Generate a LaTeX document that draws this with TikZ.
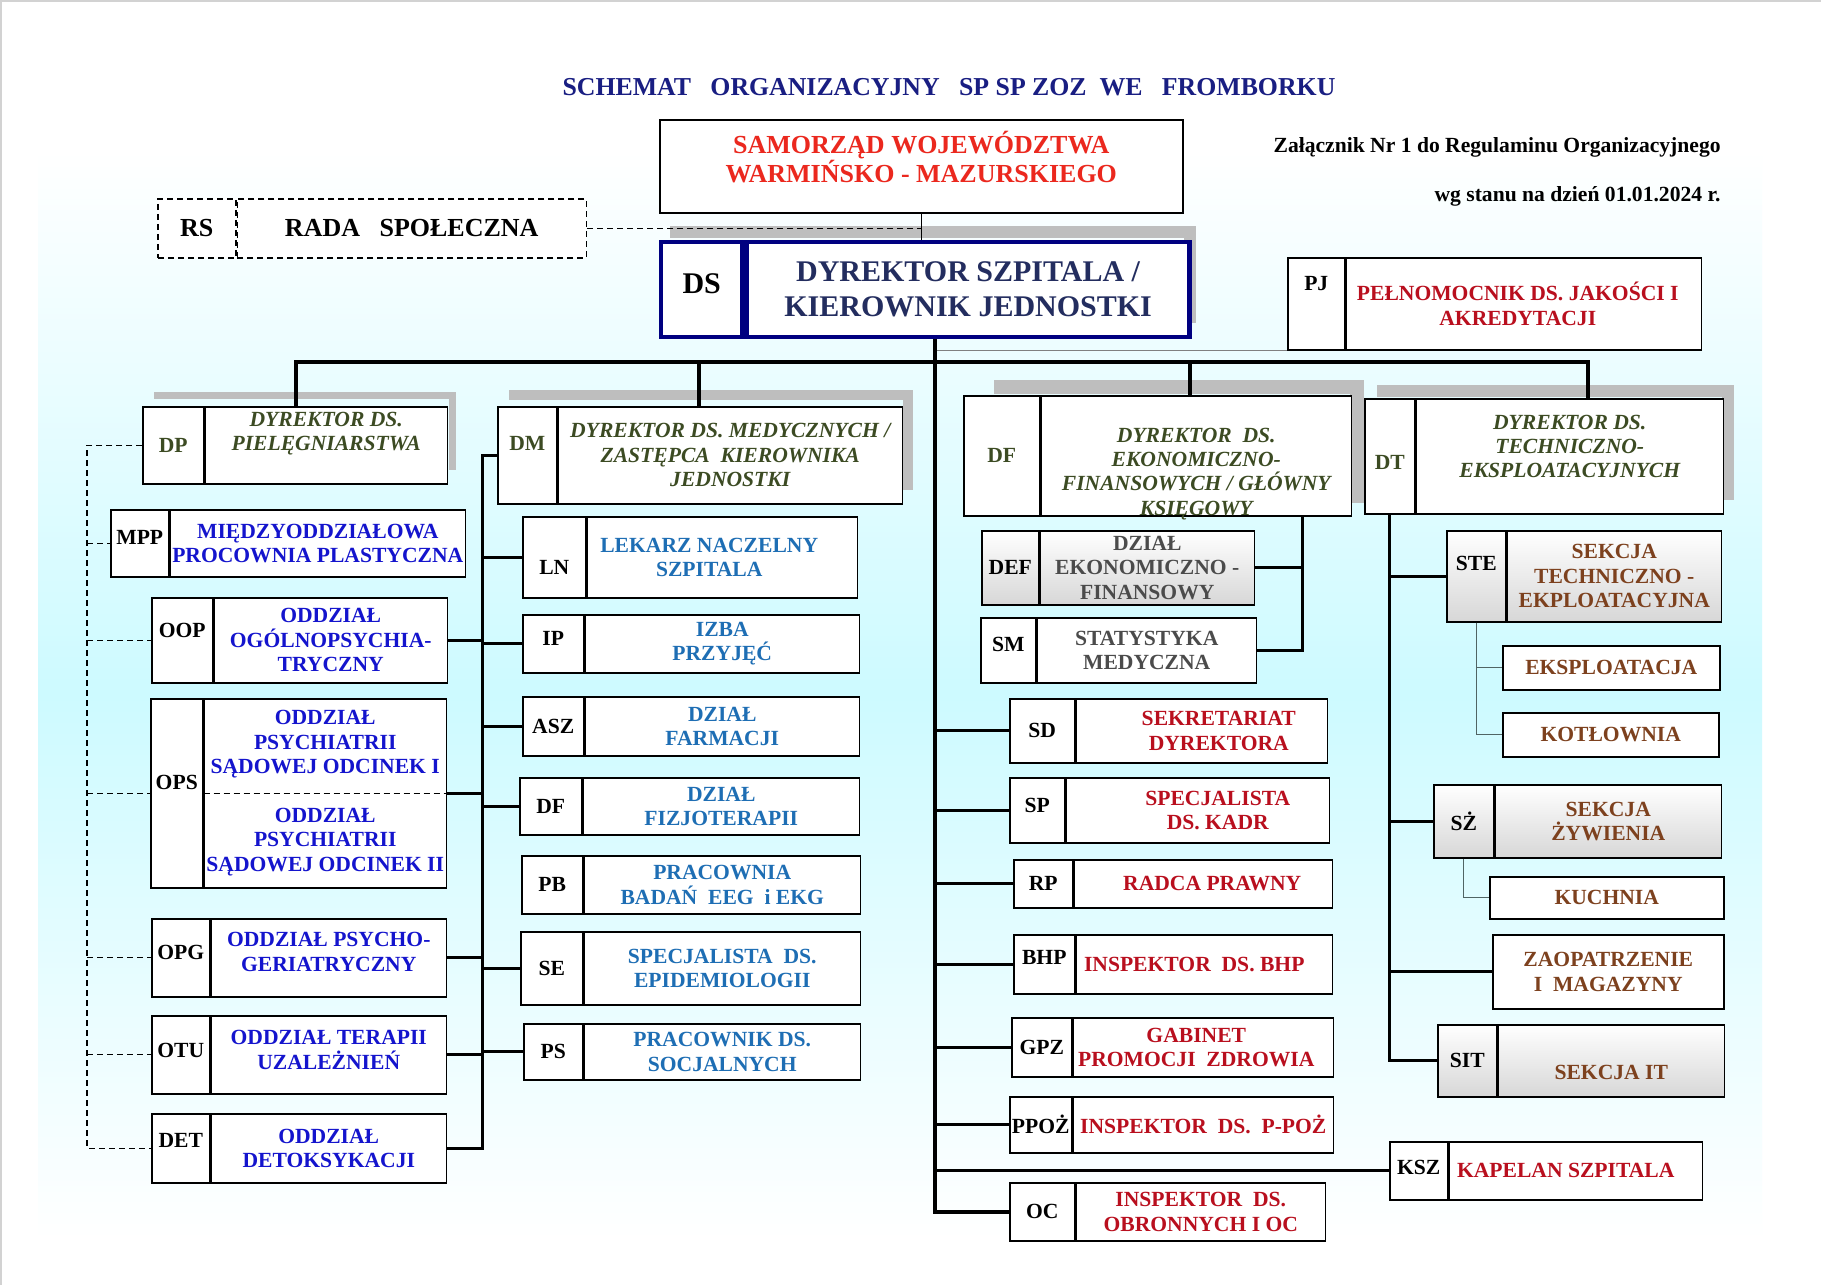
\documentclass[tikz,border=0pt]{standalone}
\usepackage{fontspec}
\setmainfont{Liberation Serif}
\usetikzlibrary{positioning}

\definecolor{titlenavy}{RGB}{25,30,130}
\definecolor{dsnavy}{RGB}{0,0,128}
\definecolor{dstext}{RGB}{35,45,95}
\definecolor{samred}{RGB}{235,40,30}
\definecolor{oddzblue}{RGB}{20,20,205}
\definecolor{medblue}{RGB}{30,110,180}
\definecolor{darkred}{RGB}{185,15,30}
\definecolor{olivetxt}{RGB}{60,75,35}
\definecolor{browntxt}{RGB}{125,65,30}
\definecolor{graytxt}{RGB}{75,75,75}
\definecolor{shadegray}{RGB}{190,190,190}
\definecolor{gradgray}{RGB}{215,215,215}
\definecolor{bgcyan}{RGB}{205,250,255}
\definecolor{sublinec}{RGB}{80,100,100}
\colorlet{labc}{black}

\newcommand{\txtfont}{\bfseries\fontsize{10.8}{12.2}\selectfont}
% struts to move a cell text up (\up) or down (\dn) by half the length
\newcommand{\up}[1]{\rule[-#1]{0pt}{0pt}}
\newcommand{\dn}[1]{\rule{0pt}{#1}}

\tikzset{
  boxcell/.style={draw, line width=0.75pt, fill=white, inner xsep=1pt, inner ysep=0pt, align=center, font=\txtfont},
  labfont/.style={text=labc, font=\txtfont},
  oddz/.style={text=oddzblue},
  med/.style={text=medblue},
  sekr/.style={text=darkred},
  dyr/.style={text=olivetxt, font=\txtfont\itshape},
  ekon/.style={text=graytxt},
  tech/.style={text=browntxt},
  gradfill/.style={top color=white, bottom color=gradgray},
  bus/.style={line width=1.5pt},
  mainbus/.style={line width=2pt},
  dashlink/.style={dashed, line width=0.6pt, dash pattern=on 3pt off 2pt},
  subline/.style={draw=sublinec, line width=0.7pt},
  shadebar/.style={draw=shadegray, line width=#1},
}

% one unit: label cell + text cell
\newcommand{\unitbox}[9]{%
  \node[boxcell, #9, labfont, minimum width=#4*0.5pt, minimum height=#6*0.5pt, anchor=north west] (#1) at (#2,#3) {#7};
  \node[boxcell, #9, minimum width=(#5-#4)*0.5pt, minimum height=#6*0.5pt, anchor=north west] (#1-t) at (#1.north east) {#8};
}

\begin{document}
\begin{tikzpicture}[x=0.5pt, y=-0.5pt]
  \useasboundingbox (0,0) rectangle (1821,1285);
  \fill[white] (0,0) rectangle (1821,1285);
  \shade[top color=white, bottom color=white, middle color=bgcyan] (38,150) rectangle (1762,1240);
  \draw[gray!35, line width=1pt] (1,1285) -- (1,1) -- (1821,1);

  % header
  \node[font=\bfseries\fontsize{12.9}{15}\selectfont, text=titlenavy] (title) at (949,87)
    {SCHEMAT\ \ \ ORGANIZACYJNY\ \ \ SP SP ZOZ\ \ WE\ \ \ FROMBORKU};
  \node[boxcell, text=samred, font=\bfseries\fontsize{13}{14.5}\selectfont, minimum width=523*0.5pt, minimum height=93*0.5pt, anchor=north west] (sam) at (659,119)
    {SAMORZĄD WOJEWÓDZTWA\\WARMIŃSKO - MAZURSKIEGO\up{9pt}};
  \node[font=\txtfont, anchor=east, inner sep=0pt] (zal) at (1721,147) {Załącznik Nr 1 do Regulaminu Organizacyjnego};
  \node[font=\txtfont, anchor=east, inner sep=0pt] (stan) at (1721,196) {wg stanu na dzień 01.01.2024 r.};

  \node[boxcell, dashed, dash pattern=on 3pt off 2pt, font=\bfseries\fontsize{13}{15}\selectfont, minimum width=78*0.5pt, minimum height=59*0.5pt, anchor=north west] (rs) at (157,198) {RS};
  \node[boxcell, dashed, dash pattern=on 3pt off 2pt, font=\bfseries\fontsize{13}{15}\selectfont, minimum width=349*0.5pt, minimum height=59*0.5pt, anchor=north west] (rs-t) at (rs.north east) {RADA\ \ \ SPOŁECZNA};

  \draw[shadebar=6pt] (670,232) -- (1190,232) -- (1190,323);
  \node[boxcell, draw=dsnavy, line width=2.2pt, font=\bfseries\fontsize{15}{17.5}\selectfont, minimum width=81*0.5pt, minimum height=95*0.5pt, anchor=north west] (ds) at (659,240) {DS\up{6pt}};
  \node[boxcell, draw=dsnavy, line width=2.2pt, text=dstext, font=\bfseries\fontsize{15}{17.5}\selectfont, minimum width=443*0.5pt, minimum height=95*0.5pt, anchor=north west] (ds-t) at (ds.north east) {DYREKTOR SZPITALA /\\KIEROWNIK JEDNOSTKI};

  \unitbox{pj}{1287}{257}{57}{412}{92}{PJ\up{20pt}}{PEŁNOMOCNIK DS. JAKOŚCI I\hspace*{6pt}\\AKREDYTACJI\hspace*{6pt}}{sekr}

  % directors
  \colorlet{labc}{olivetxt}
  \draw[shadebar=3.5pt] (154,395) -- (452,395) -- (452,470);
  \unitbox{dp}{142}{406}{61}{303}{77}{DP}{DYREKTOR DS.\\PIELĘGNIARSTWA\up{14pt}}{dyr}
  \draw[shadebar=5pt] (509,395) -- (908,395) -- (908,490);
  \unitbox{dm}{497}{406}{59}{403}{97}{DM\up{11.5pt}}{DYREKTOR DS. MEDYCZNYCH /\\ZASTĘPCA\ \ KIEROWNIKA\\JEDNOSTKI}{dyr}
  \draw[shadebar=7pt] (994,387) -- (1357,387) -- (1357,503);
  \unitbox{df}{963}{395}{76}{386}{120}{DF}{\dn{23pt}DYREKTOR\ \ DS.\\EKONOMICZNO-\\FINANSOWYCH / GŁÓWNY\\\smash{KSIĘGOWY}}{dyr}
  \draw[shadebar=6pt] (1377,391) -- (1728,391) -- (1728,500);
  \unitbox{dt}{1364}{398}{50}{357}{115}{\dn{13.7pt}DT}{DYREKTOR DS.\\TECHNICZNO-\\EKSPLOATACYJNYCH\up{10pt}}{dyr}
  \colorlet{labc}{black}

  % wards
  \unitbox{mpp}{110}{509}{58}{353}{67}{MPP\up{5.5pt}}{MIĘDZYODDZIAŁOWA\\PROCOWNIA PLASTYCZNA}{oddz}
  \unitbox{oop}{151}{597}{61}{294}{85}{OOP\up{9.5pt}}{ODDZIAŁ\\OGÓLNOPSYCHIA-\\TRYCZNY}{oddz}
  \unitbox{ops}{150}{698}{52}{294}{189}{OPS\up{10.5pt}}{ODDZIAŁ\\PSYCHIATRII\\SĄDOWEJ ODCINEK I\\[12.2pt]ODDZIAŁ\\PSYCHIATRII\\SĄDOWEJ ODCINEK II}{oddz}
  \unitbox{opg}{151}{918}{58}{293}{78}{OPG\up{5pt}}{ODDZIAŁ PSYCHO-\\GERIATRYCZNY\up{6pt}}{oddz}
  \unitbox{otu}{151}{1015}{58}{293}{78}{OTU\up{4pt}}{ODDZIAŁ TERAPII\\UZALEŻNIEŃ\up{5pt}}{oddz}
  \unitbox{det}{151}{1113}{58}{293}{69}{DET\up{7.5pt}}{ODDZIAŁ\\DETOKSYKACJI}{oddz}

  % medical units
  \unitbox{ln}{522}{516}{63}{333}{81}{\dn{17.7pt}LN}{LEKARZ NACZELNY\hspace*{13pt}\\SZPITALA\hspace*{13pt}}{med}
  \unitbox{ip}{522}{614}{61}{335}{58}{IP\up{5pt}}{IZBA\\PRZYJĘĆ}{med}
  \unitbox{asz}{522}{696}{61}{335}{59}{ASZ}{DZIAŁ\\FARMACJI}{med}
  \unitbox{dfz}{519}{777}{62}{338}{57}{DF}{DZIAŁ\\FIZJOTERAPII}{med}
  \unitbox{pb}{521}{855}{61}{337}{58}{PB}{PRACOWNIA\\BADAŃ\ \ EEG\ \ i EKG}{med}
  \unitbox{se}{520}{931}{62}{338}{73}{SE}{SPECJALISTA\ \ DS.\\EPIDEMIOLOGII}{med}
  \unitbox{ps}{523}{1023}{59}{335}{56}{PS}{PRACOWNIK DS.\\SOCJALNYCH}{med}

  % finance units
  \unitbox{def}{981}{530}{57}{271}{74}{DEF}{DZIAŁ\\EKONOMICZNO -\\FINANSOWY}{ekon, gradfill}
  \unitbox{sm}{980}{617}{55}{274}{65}{SM\up{5.5pt}}{STATYSTYKA\\MEDYCZNA}{ekon}

  % units under DS
  \unitbox{sd}{1009}{698}{65}{316}{64}{SD}{\hspace*{17pt}SEKRETARIAT\\\hspace*{17pt}DYREKTORA}{sekr}
  \unitbox{sp}{1009}{777}{55}{318}{65}{SP\up{4.5pt}}{\hspace*{20pt}SPECJALISTA\\\hspace*{20pt}DS. KADR}{sekr}
  \unitbox{rp}{1013}{859}{59}{317}{48}{RP}{\hspace*{9pt}RADCA PRAWNY}{sekr}
  \unitbox{bhp}{1013}{934}{61}{317}{59}{BHP\up{6.5pt}}{INSPEKTOR\ \ DS. BHP\hspace*{10pt}}{sekr}
  \unitbox{gpz}{1011}{1017}{60}{320}{59}{GPZ}{GABINET\hspace*{7pt}\\PROMOCJI\ \ ZDROWIA\hspace*{7pt}}{sekr}
  \unitbox{ppoz}{1009}{1096}{62}{322}{56}{PPOŻ}{INSPEKTOR\ \ DS.\ \ P-POŻ}{sekr}
  \unitbox{oc}{1009}{1182}{65}{314}{58}{OC}{INSPEKTOR\ \ DS.\\OBRONNYCH I OC}{sekr}
  \unitbox{ksz}{1389}{1141}{58}{311}{58}{KSZ\up{3pt}}{KAPELAN SZPITALA\hspace*{10pt}}{sekr}

  % technical units
  \unitbox{ste}{1446}{530}{59}{273}{91}{STE\up{12.5pt}}{SEKCJA\\TECHNICZNO -\\EKPLOATACYJNA}{tech, gradfill}
  \node[boxcell, tech, minimum width=217*0.5pt, minimum height=44*0.5pt, anchor=north west] (eks) at (1502,645) {EKSPLOATACJA};
  \node[boxcell, tech, minimum width=216*0.5pt, minimum height=44*0.5pt, anchor=north west] (kot) at (1502,712) {KOTŁOWNIA};
  \unitbox{sz}{1433}{784}{60}{286}{73}{SŻ}{SEKCJA\\ŻYWIENIA}{tech, gradfill}
  \node[boxcell, tech, minimum width=234*0.5pt, minimum height=42*0.5pt, anchor=north west] (kuch) at (1489,876) {KUCHNIA};
  \node[boxcell, tech, minimum width=231*0.5pt, minimum height=74*0.5pt, anchor=north west] (zao) at (1492,934) {ZAOPATRZENIE\\I\ \ MAGAZYNY};
  \unitbox{sit}{1437}{1024}{59}{285}{72}{SIT}{\dn{19pt}SEKCJA IT}{tech, gradfill}

  % connectors
  \draw[line width=0.6pt] (sam.south) -- (sam.south |- ds-t.north);
  \draw[dashlink] (rs-t.east) -- (rs-t.east -| sam.south);

  \coordinate (trunk) at (935,362);
  \coordinate (dpdrop) at (296,362);
  \coordinate (dmdrop) at (699,362);
  \coordinate (dfdrop) at (1190,362);
  \coordinate (dtdrop) at (1588,362);
  \draw[gray, line width=0.6pt] (pj.south west) -- (pj.south west -| trunk);
  \draw[mainbus] (dpdrop |- dp-t.north) -- (dpdrop) -- (dtdrop) -- (dtdrop |- dt-t.north);
  \draw[mainbus] (dmdrop) -- (dmdrop |- dm-t.north);
  \draw[mainbus] (dfdrop) -- (dfdrop |- df-t.north);
  \draw[mainbus] (trunk |- ds-t.south) -- (trunk |- oc.west) -- (oc.west);

  \draw[bus] (trunk |- sd.west) -- (sd.west);
  \draw[bus] (trunk |- sp.west) -- (sp.west);
  \draw[bus] (trunk |- rp.west) -- (rp.west);
  \draw[bus] (trunk |- bhp.west) -- (bhp.west);
  \draw[bus] (trunk |- gpz.west) -- (gpz.west);
  \draw[bus] (trunk |- ppoz.west) -- (ppoz.west);
  \draw[bus] (trunk |- ksz.west) -- (ksz.west);

  \coordinate (dfbus) at (1302,0);
  \draw[bus] (dfbus |- df-t.south) |- (def-t.east);
  \draw[bus] (dfbus |- df-t.south) |- (sm-t.east);

  \coordinate (dmbus) at (482,0);
  \draw[bus] (dm.west) -| (dmbus |- det-t.east) -- (det-t.east);
  \draw[bus] (dmbus |- ln.west) -- (ln.west);
  \draw[bus] (dmbus |- ip.west) -- (ip.west);
  \draw[bus] (dmbus |- asz.west) -- (asz.west);
  \draw[bus] (dmbus |- dfz.west) -- (dfz.west);
  \draw[bus] (dmbus |- se.west) -- (se.west);
  \draw[bus] (dmbus |- ps.west) -- (ps.west);
  \draw[bus] (oop-t.east) -- (dmbus |- oop-t.east);
  \draw[bus] (ops-t.east) -- (dmbus |- ops-t.east);
  \draw[bus] (opg-t.east) -- (dmbus |- opg-t.east);
  \draw[bus] (otu-t.east) -- (dmbus |- otu-t.east);

  \coordinate (dpbus) at (87,0);
  \draw[dashlink] (dp.west) -| (dpbus |- det.west) -- (det.west);
  \draw[dashlink] (dpbus |- mpp.west) -- (mpp.west);
  \draw[dashlink] (dpbus |- oop.west) -- (oop.west);
  \draw[dashlink] (dpbus |- ops.west) -- (ops.west);
  \draw[dashlink] (dpbus |- opg.west) -- (opg.west);
  \draw[dashlink] (dpbus |- otu.west) -- (otu.west);
  \draw[dashlink] (ops-t.west) -- (ops-t.east);

  \draw[bus] (dt.south) -- (dt.south |- sit.west) -- (sit.west);
  \draw[bus] (dt.south |- ste.west) -- (ste.west);
  \draw[bus] (dt.south |- sz.west) -- (sz.west);
  \draw[bus] (dt.south |- zao.west) -- (zao.west);
  \draw[subline] (ste.south) |- (eks.west);
  \draw[subline] (ste.south) |- (kot.west);
  \draw[subline] (sz.south) |- (kuch.west);
\end{tikzpicture}
\end{document}
